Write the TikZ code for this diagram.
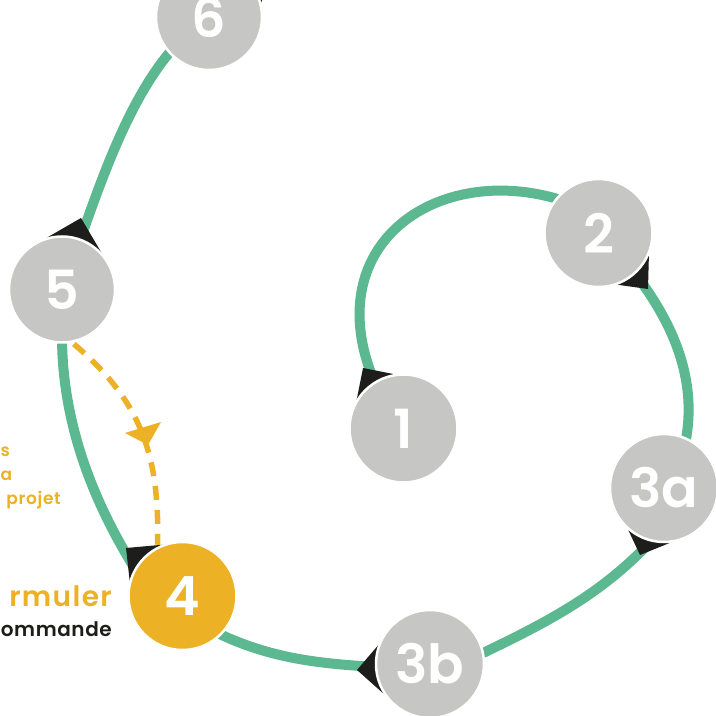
\documentclass[tikz,border=0pt]{standalone}
\usepackage{fontspec}
\setmainfont{Poppins}
\newfontfamily\digitfont{Poppins SemiBold}
\newfontfamily\labelfont{Poppins SemiBold}
\usetikzlibrary{calc}
\definecolor{flowgreen}{HTML}{5BB890}
\definecolor{accent}{HTML}{ECB124}
\definecolor{stagegray}{HTML}{C6C6C4}
\definecolor{ink}{HTML}{1D1D1B}
\pgfdeclarelayer{bg}
\pgfsetlayers{bg,main}
\begin{document}
\begin{tikzpicture}[x=1pt,y=1pt,
  stage/.style={circle, fill=stagegray, draw=white, line width=2.5pt,
    minimum size=108pt, inner sep=0pt, text=white,
    font=\digitfont\fontsize{54}{54}\selectfont},
  active/.style={stage, fill=accent},
  flow/.style={draw=flowgreen, line width=10pt, shorten <=-8pt, shorten >=-8pt},
  backflow/.style={draw=accent, line width=5.5pt, dash pattern=on 14pt off 10pt, shorten <=2pt, shorten >=2pt},
  tipmark/.style={fill=ink},
  label/.style={inner sep=0pt, font=\labelfont\fontsize{#1}{#1}\selectfont},
]
\useasboundingbox (0,0) rectangle (716,716);

% stages
\node[stage] (n1) at (403.5,287.5) {1};
\node[stage] (n2) at (598.5,483) {2};
\node[stage] (n3a) at (664,228) {3a};
\node[stage] (n3b) at (430,52) {3b};
\node[active] (n4) at (182.5,120) {4};
\node[stage, minimum size=106pt] (n5) at (62,426.5) {5};
\node[stage, minimum size=106pt] (n6) at (209,699) {6};

\begin{pgfonlayer}{bg}
  \fill[white] (0,0) rectangle (716,716);
  \draw[flow] (n1.122) .. controls (312,470) and (437,556) .. (n2.141);
  \draw[flow] (n2.-48) .. controls (672,396) and (699,337) .. (n3a.66);
  \draw[flow] (n3a.256) .. controls (605,123) and (546,93) .. (n3b.12);
  \draw[flow] (n3b.183) .. controls (321,52) and (270,57) .. (n4.-45);
  \draw[flow] (n4.150) .. controls (92.5,214) and (62,293.5) .. (n5.270);
  \draw[flow] (n5.70) .. controls (100,531.5) and (128,617) .. (n6.222);
  \draw[backflow] (n5.-79) .. controls (140,316) and (160,262) .. (n4.117);
  % arrow marks
  \fill[tipmark] (363,348) -- (353.2,299) -- (410,338.6) -- cycle;
  \fill[tipmark] (648,427) -- (600.5,433.6) -- (649.2,472) -- cycle;
  \fill[tipmark] (640,161) -- (620.9,201.7) -- (678.9,176.8) -- cycle;
  \fill[tipmark] (357,46) -- (386.2,80.2) -- (390.6,16) -- cycle;
  \fill[tipmark] (126,168) -- (171,172) -- (131,123) -- cycle;
  \fill[tipmark] (81,498) -- (42,475.5) -- (104,459) -- cycle;
  \fill[tipmark] (266,726) -- (240,735) -- (252,690) -- cycle;
  \fill[accent] (125,283) -- (161,294) -- (148,271) -- cycle;
\end{pgfonlayer}

% texts
\node[label=28, anchor=base east, text=accent] (t1) at (112,109) {\addfontfeature{LetterSpace=5}rmuler};
\node[label=20, anchor=base east, text=ink] (t2) at (112,79) {\addfontfeature{LetterSpace=3}ommande};
\node[label=17, anchor=base west, text=accent] (t3) at (0.5,259) {s};
\node[label=17, anchor=base west, text=accent] (t4) at (0.5,235) {a};
\node[label=17, anchor=base east, text=accent] (t5) at (61,211) {\addfontfeature{LetterSpace=4}projet};
\end{tikzpicture}
\end{document}
